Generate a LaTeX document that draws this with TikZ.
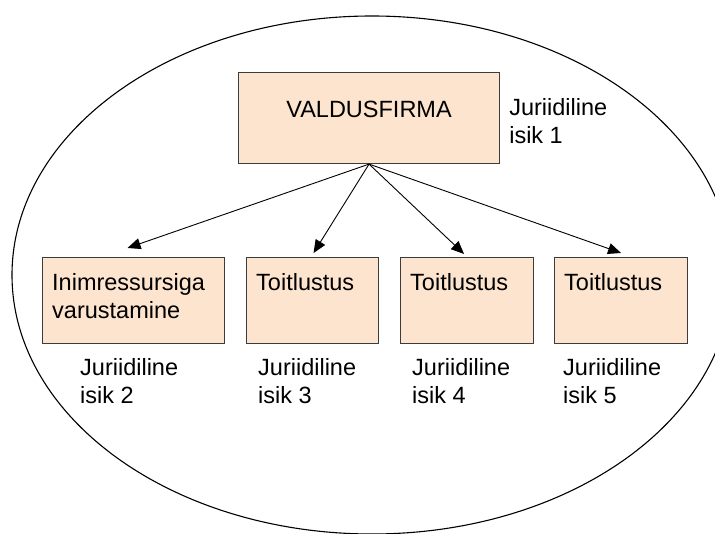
\documentclass[tikz,border=0pt]{standalone}
\usepackage{fontspec}
\setmainfont{Liberation Sans}
\usepackage{xcolor}
\usetikzlibrary{arrows.meta,positioning,calc}
\definecolor{peach}{RGB}{252,228,206}
\definecolor{framegray}{RGB}{60,60,60}

\begin{document}
\begin{tikzpicture}[x=1pt, y=-1pt, font=\fontsize{23.5}{28}\selectfont,
  arr/.style={-{Triangle[length=13pt,width=11pt]}, line width=0.9pt},
  firm/.style={draw=framegray, line width=1.1pt, fill=peach, inner sep=0pt, anchor=north west},
  txt/.style={inner sep=0pt, align=left}]
  \useasboundingbox (0,0) rectangle (715,534);
  % Group border
  \begin{scope}
    \clip (0,0) rectangle (715,534);
    \draw[line width=1.1pt] (372,275) ellipse [x radius=360pt, y radius=259pt];
  \end{scope}
  % Holding company
  \node[firm, minimum width=261pt, minimum height=91pt] (hold) at (238,72) {};
  \node[txt, below=29pt of hold.north] (holdtxt) {VALDUSFIRMA};
  \node[txt, anchor=north west] (hold-lab) at ([shift={(9,26)}]hold.north east) {Juriidiline\\isik 1};
  % Subsidiaries
  \foreach \n/\x/\w/\lx/\t in {1/42/182/38/{Inimressursiga\\varustamine}, 2/246/132/12/Toitlustus,
                               3/400/133/12/Toitlustus, 4/554/133/9/Toitlustus}{
    \pgfmathtruncatemacro{\m}{\n+1}
    \node[firm, minimum width=\w pt, minimum height=86pt] (b\n) at (\x,257) {};
    \node[txt, anchor=north west] (b\n-txt) at ([shift={(10,16)}]b\n.north west) {\t};
    \node[txt, anchor=north west] (b\n-lab) at ([shift={(\lx,101)}]b\n.north west) {Juriidiline\\isik \m};
  }
  % Ownership arrows
  \foreach \n/\dx/\dy in {1/-6/-9, 2/1/-4, 3/-3/-3, 4/0/-4}
    \draw[arr] (hold.south) -- ([shift={(\dx,\dy)}]b\n.north);
\end{tikzpicture}
\end{document}
